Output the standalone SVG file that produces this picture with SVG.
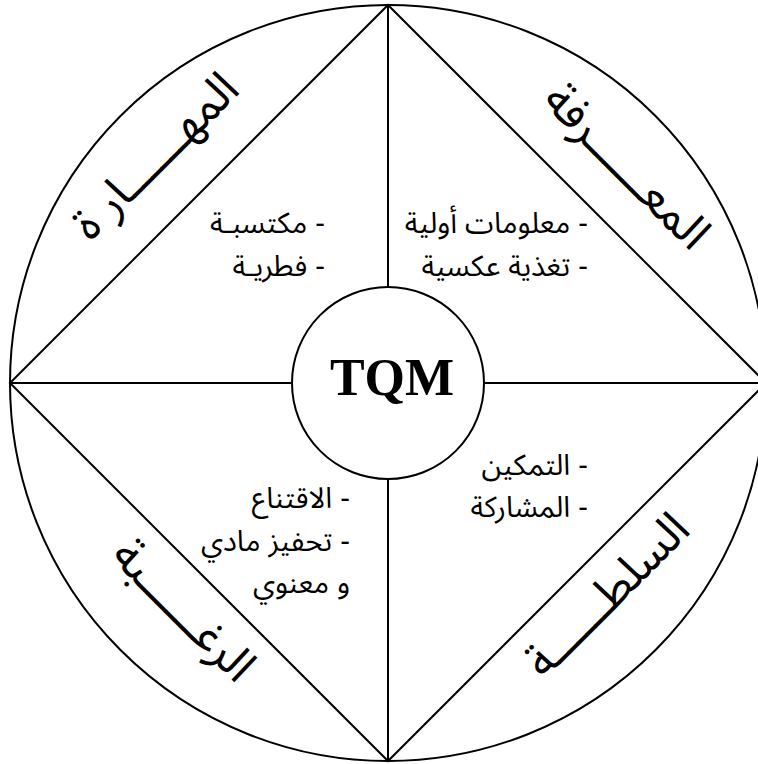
<svg xmlns="http://www.w3.org/2000/svg" width="758" height="764" viewBox="0 0 758 764">
<style>
.ln{stroke:#000;stroke-width:2;fill:none}
.ar{font-family:"Liberation Sans","Noto Sans Arabic","DejaVu Sans",sans-serif;font-size:29px;fill:#000;direction:rtl}
.ti{font-family:"Liberation Sans","Noto Sans Arabic","DejaVu Sans",sans-serif;font-size:47px;fill:#000;direction:rtl}
.tq{font-family:"Liberation Serif","Times New Roman",serif;font-size:52px;font-weight:bold;fill:#000}
</style>
<rect width="758" height="764" fill="#fff"/>
<g id="connectors">
<circle class="ln" cx="388" cy="383" r="378"/>
<polygon class="ln" points="388,5 766,383 388,761 10,383"/>
<line class="ln" x1="388" y1="5" x2="388" y2="287"/>
<line class="ln" x1="388" y1="479" x2="388" y2="761"/>
<line class="ln" x1="10" y1="383" x2="292" y2="383"/>
<line class="ln" x1="484" y1="383" x2="766" y2="383"/>
</g>
<g id="tqm">
<circle class="ln" cx="388" cy="383" r="96"/>
<text class="tq" x="392" y="395" text-anchor="middle">TQM</text>
</g>
<g id="knowledge">
<text class="ti" transform="translate(616,177) rotate(45)" text-anchor="middle">المعــــــرفة</text>
<text class="ar" x="588" y="233" text-anchor="start">- معلومات أولية</text>
<text class="ar" x="588" y="276" text-anchor="start">- تغذية عكسية</text>
</g>
<g id="skill">
<text class="ti" transform="translate(166,167) rotate(-45)" text-anchor="middle">المهــــــار ة</text>
<text class="ar" x="325" y="233" text-anchor="start">- مكتسبـة</text>
<text class="ar" x="325" y="276" text-anchor="start">- فطريـة</text>
</g>
<g id="desire">
<text class="ti" transform="translate(173,621) rotate(45)" text-anchor="middle">الرغــــــبة</text>
<text class="ar" x="350" y="508" text-anchor="start">- الاقتناع</text>
<text class="ar" x="350" y="551" text-anchor="start">- تحفيز مادي</text>
<text class="ar" x="350" y="593" text-anchor="start">و معنوي</text>
</g>
<g id="authority">
<text class="ti" transform="translate(618,606) rotate(-45)" text-anchor="middle">السلطــــــة</text>
<text class="ar" x="588" y="475" text-anchor="start">- التمكين</text>
<text class="ar" x="588" y="517" text-anchor="start">- المشاركة</text>
</g>
</svg>
